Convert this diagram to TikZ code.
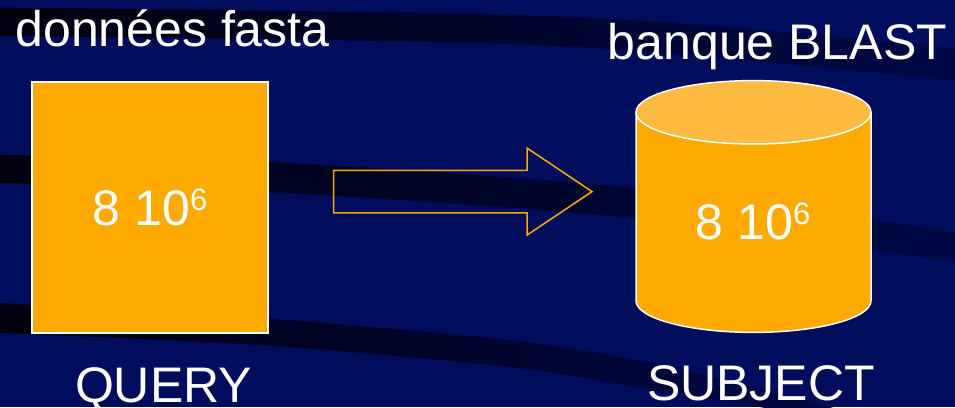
\documentclass[tikz,border=0pt]{standalone}
\usepackage{fontspec}
\setmainfont{Liberation Sans}
\definecolor{bgnavy}{RGB}{0,12,92}
\definecolor{bandL}{RGB}{0,0,14}
\definecolor{bandR}{RGB}{0,9,70}
\definecolor{boxorange}{RGB}{255,170,0}
\definecolor{toporange}{RGB}{255,187,64}
\newcommand{\tensix}[1]{8 10\raisebox{#1}{\fontsize{31}{31}\selectfont 6}}
\begin{document}
\begin{tikzpicture}[x=1pt,y=1pt,
  bigtext/.style={text=white, font=\fontsize{50}{60}\selectfont, inner sep=0pt, anchor=base},
  band/.style={left color=bandL, right color=bandR},
  outline/.style={draw=white, line width=1.5pt}]
\useasboundingbox (0,0) rectangle (955,407);
\fill[bgnavy] (0,0) rectangle (955,407);
\begin{scope}
\clip (0,0) rectangle (955,407);
% top band
\shade[band] plot[smooth] coordinates {(-5,399.5) (480,393) (700,382) (960,358)}
  -- plot[smooth] coordinates {(960,326) (700,351) (480,364) (-5,371)} -- cycle;
% middle band
\shade[band] plot[smooth] coordinates {(-5,252.2) (268,245) (633,219) (960,174)}
  -- plot[smooth] coordinates {(960,144) (633,189) (268,215) (-5,224.2)} -- cycle;
% lower band
\shade[band] plot[smooth] coordinates {(-5,104.2) (260,89) (510,67) (635,47) (724,27) (830,0) (860,-12)}
  -- plot[smooth] coordinates {(790,-12) (760,0) (635,20) (510,40) (260,62) (-5,74.2)} -- cycle;
\end{scope}
% query box
\node[outline, fill=boxorange, minimum width=236pt, minimum height=251pt, inner sep=0pt] (qbox) at (150,199.5) {};
\node[bigtext] (qnum) at (150,181) {\tensix{15pt}};
% subject cylinder
\coordinate (sdb) at (753.5,200.5);
\fill[boxorange] (636,294.7) -- (636,106.3) arc[start angle=180,end angle=360,x radius=117.5,y radius=31.7] -- (871,294.7) -- cycle;
\draw[outline] (636,294.7) -- (636,106.3) arc[start angle=180,end angle=360,x radius=117.5,y radius=31.7] -- (871,294.7);
\filldraw[outline, fill=toporange] (753.5,294.7) ellipse[x radius=117.5, y radius=31.7];
\node[bigtext] (snum) at (753,167) {\tensix{15pt}};
% block arrow
\draw[boxorange, line width=1.5pt, line join=miter]
  (333.5,236.7) -- (527,236.7) -- (527,258.9) -- (592,215.4) -- (527,171.9) -- (527,194.1) -- (333.5,194.1) -- cycle;
% labels
\node[bigtext] (fasta) at (172.5,360) {données fasta};
\node[bigtext] (blast) at (777.5,347) {banque BLAST};
\node[bigtext] (query) at (163.5,5) {QUERY};
\node[bigtext] (subject) at (761,6.5) {SUBJECT};
\end{tikzpicture}
\end{document}
